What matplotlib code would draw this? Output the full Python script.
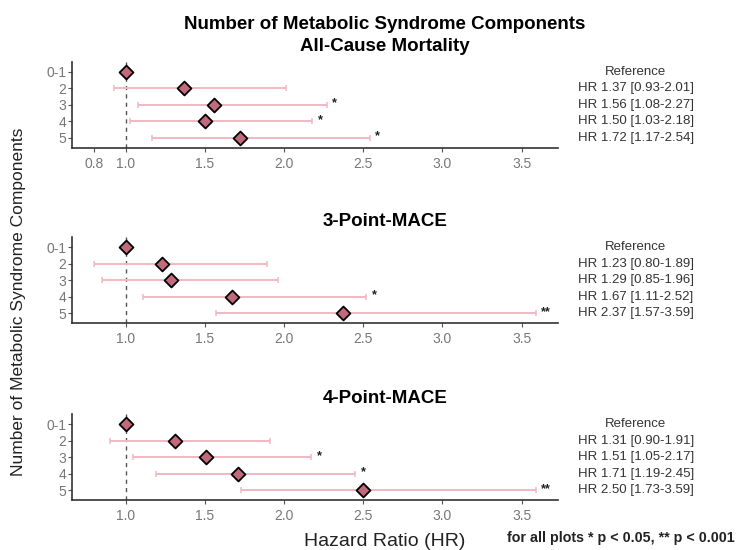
import numpy as np
import matplotlib
matplotlib.use('Agg')
import matplotlib.pyplot as plt

plt.rcParams['font.family'] = ['Liberation Sans Narrow', 'Liberation Sans', 'DejaVu Sans']

# Данные
categories = ['0-1', '2', '3', '4', '5']
panel_titles = ['Number of Metabolic Syndrome Components\nAll-Cause Mortality',
                '3-Point-MACE', '4-Point-MACE']

hr_allcause = [1.00, 1.37, 1.56, 1.50, 1.72]
lo_allcause = [np.nan, 0.93, 1.08, 1.03, 1.17]
hi_allcause = [np.nan, 2.01, 2.27, 2.18, 2.54]
stars_allcause = ['', '', '*', '*', '*']

hr_mace3 = [1.00, 1.23, 1.29, 1.67, 2.37]
lo_mace3 = [np.nan, 0.80, 0.85, 1.11, 1.57]
hi_mace3 = [np.nan, 1.89, 1.96, 2.52, 3.59]
stars_mace3 = ['', '', '', '*', '**']

hr_mace4 = [1.00, 1.31, 1.51, 1.71, 2.50]
lo_mace4 = [np.nan, 0.90, 1.05, 1.19, 1.73]
hi_mace4 = [np.nan, 1.91, 2.17, 2.45, 3.59]
stars_mace4 = ['', '', '*', '*', '**']

ticks_allcause = [0.8, 1.0, 1.5, 2.0, 2.5, 3.0, 3.5]
ticks_other = [1.0, 1.5, 2.0, 2.5, 3.0, 3.5]

panels = [
    (hr_allcause, lo_allcause, hi_allcause, stars_allcause, ticks_allcause),
    (hr_mace3, lo_mace3, hi_mace3, stars_mace3, ticks_other),
    (hr_mace4, lo_mace4, hi_mace4, stars_mace4, ticks_other),
]

ci_color = '#f2b8c2'
marker_color = '#c26a7c'

fig = plt.figure(figsize=(7.36, 5.5), dpi=100)
bottoms = [0.7316, 0.4127, 0.0909]

for k, (hr, lo, hi, stars, ticks) in enumerate(panels):
    ax = fig.add_axes([0.0974, bottoms[k], 0.6608, 0.156])
    y = np.arange(len(categories))
    hr = np.array(hr)
    lo = np.array(lo)
    hi = np.array(hi)

    # Доверительные интервалы
    mask = ~np.isnan(lo)
    ax.errorbar(hr[mask], y[mask], xerr=[hr[mask] - lo[mask], hi[mask] - hr[mask]],
                fmt='none', ecolor=ci_color, elinewidth=1.4, capsize=2.5, capthick=1.1, zorder=2)
    ax.axvline(1.0, color='#555555', linestyle=(0, (3, 3)), linewidth=1.0, zorder=1)
    ax.scatter(hr, y, marker='D', s=50, facecolor=marker_color, edgecolor='black',
               linewidth=1.3, zorder=3)

    # Звездочки значимости
    for i in range(len(categories)):
        if stars[i]:
            ax.annotate(stars[i], (hi[i], y[i]), xytext=(4, 1), textcoords='offset points',
                        fontsize=9, fontweight='bold', va='center', ha='left', color='#222222')

    # Подписи справа
    labels = ['Reference'] + ['HR %.2f [%.2f-%.2f]' % (hr[i], lo[i], hi[i]) for i in range(1, len(categories))]
    for i, lab in enumerate(labels):
        ax.text(1.16, y[i], lab, transform=ax.get_yaxis_transform(), ha='center', va='center',
                fontsize=9.5, color='#333333', clip_on=False)

    ax.set_xlim(0.66, 3.73)
    ax.set_ylim(4.6, -0.6)
    ax.set_yticks(y)
    ax.set_yticklabels(categories)
    ax.set_xticks(ticks)
    ax.set_xticklabels(['%.1f' % t for t in ticks])
    ax.tick_params(axis='both', colors='#555555', labelcolor='#777777', labelsize=10, length=3, width=0.8)
    ax.tick_params(axis='y', pad=1)
    for side in ['top', 'right']:
        ax.spines[side].set_visible(False)
    for side in ['left', 'bottom']:
        ax.spines[side].set_color('#333333')
        ax.spines[side].set_linewidth(1.2)
    ax.set_title(panel_titles[k], fontsize=13.5, fontweight='bold', pad=8, linespacing=1.35, x=0.644)

fig.text(0.025, 0.451, 'Number of Metabolic Syndrome Components', rotation=90,
         ha='center', va='center', fontsize=12.5, color='#222222')
fig.text(0.523, 0.016, 'Hazard Ratio (HR)', ha='center', va='center', fontsize=14, color='#222222')
fig.text(0.998, 0.022, 'for all plots * p < 0.05, ** p < 0.001', ha='right', va='center',
         fontsize=10.3, fontweight='bold', color='#222222')

fig.savefig('out.png', dpi=100)
